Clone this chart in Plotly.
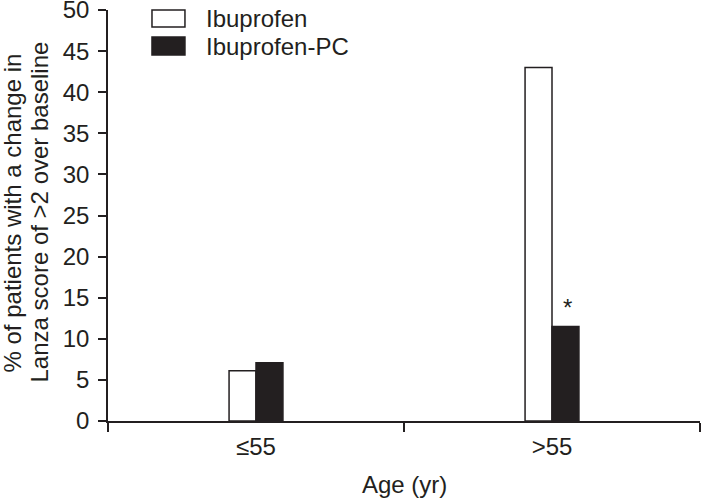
import plotly.graph_objects as go

categories = ["≤55", ">55"]
ibuprofen = [6.1, 43.0]
ibuprofen_pc = [7.1, 11.5]
y_ticks = [0, 5, 10, 15, 20, 25, 30, 35, 40, 45, 50]

FONT = "Liberation Sans, Arial, sans-serif"
INK = "#231f20"
FS = 24

fig = go.Figure()
fig.add_trace(go.Bar(x=categories, y=ibuprofen, name="Ibuprofen",
                     marker=dict(color="white", line=dict(color=INK, width=1.5))))
fig.add_trace(go.Bar(x=categories, y=ibuprofen_pc, name="Ibuprofen-PC",
                     marker=dict(color=INK, line=dict(color=INK, width=1.5))))

fig.update_layout(
    width=701, height=499,
    margin=dict(l=108, r=1, t=10, b=78),
    plot_bgcolor="white", paper_bgcolor="white",
    barmode="group", bargap=0.818, bargroupgap=0,
    showlegend=False,
    font=dict(family=FONT, size=FS, color=INK),
)
fig.update_xaxes(
    range=[-0.5, 1.5], showline=True, linecolor=INK, linewidth=1.5,
    ticks="outside", tickson="boundaries", ticklen=9, tickwidth=1.5, tickcolor=INK,
    showgrid=False, zeroline=False, tickfont=dict(size=FS, color=INK),
    ticklabelstandoff=3, automargin=False,
)
fig.update_yaxes(
    range=[0, 50], tickvals=y_ticks, showline=True, linecolor=INK, linewidth=1.5,
    ticks="outside", ticklen=8, tickwidth=1.5, tickcolor=INK,
    showgrid=False, zeroline=False, tickfont=dict(size=FS, color=INK),
    ticklabelstandoff=4, automargin=False, ticklabeloverflow="allow",
)

# y axis title (two lines)
fig.add_annotation(text="% of patients with a change in", xref="paper", yref="paper",
                   x=0, y=0.5, xshift=-96, yshift=2, textangle=-90, showarrow=False,
                   xanchor="center", yanchor="middle", font=dict(size=FS, color=INK))
fig.add_annotation(text="Lanza score of >2 over baseline", xref="paper", yref="paper",
                   x=0, y=0.5, xshift=-69, yshift=3, textangle=-90, showarrow=False,
                   xanchor="center", yanchor="middle", font=dict(size=FS, color=INK))
# x axis title
fig.add_annotation(text="Age (yr)", xref="paper", yref="paper", x=0.5, y=0, yshift=-63,
                   showarrow=False, xanchor="center", yanchor="middle",
                   font=dict(size=FS, color=INK))

# significance marker
fig.add_annotation(text="*", x=categories[1], y=ibuprofen_pc[1], xref="x", yref="y",
                   xshift=15, yshift=3, showarrow=False, yanchor="bottom",
                   font=dict(size=FS, color=INK))

# custom legend
fig.add_shape(type="rect", xref="paper", yref="paper", x0=0.0743, x1=0.130, y0=0.9586, y1=1.0,
              fillcolor="white", line=dict(color=INK, width=1.5))
fig.add_shape(type="rect", xref="paper", yref="paper", x0=0.0743, x1=0.130, y0=0.8905, y1=0.9343,
              fillcolor=INK, line=dict(color=INK, width=1.5))
fig.add_annotation(text="Ibuprofen", xref="paper", yref="paper", x=0.1621, y=0.9793,
                   showarrow=False, xanchor="left", yanchor="middle", font=dict(size=FS, color=INK))
fig.add_annotation(text="Ibuprofen-PC", xref="paper", yref="paper", x=0.1621, y=0.9124,
                   showarrow=False, xanchor="left", yanchor="middle", font=dict(size=FS, color=INK))

fig.write_html("out.html", config={"displayModeBar": False},
               post_script="document.body.style.margin='0';document.body.style.overflow='hidden';")
